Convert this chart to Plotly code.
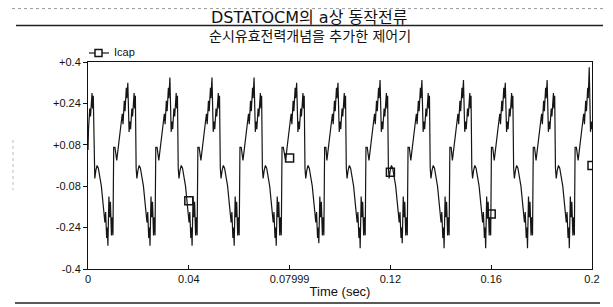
import plotly.graph_objects as go

# ---- data ----
# times (ms) of the main positive peak of each cycle
cycle_peak_ms = [-0.9, 15.8, 32.5, 49.2, 65.9, 82.8, 99.2, 115.9, 132.5, 149.0, 165.6, 182.2, 198.9]
# main peak value and minimum value of each cycle
cycle_peak_icap = [0.32, 0.32, 0.34, 0.34, 0.34, 0.32, 0.32, 0.33, 0.33, 0.33, 0.32, 0.33, 0.38]
cycle_min_icap = [-0.31, -0.31, -0.31, -0.31, -0.31, -0.30, -0.32, -0.30, -0.32, -0.32, -0.32, -0.32, -0.32]
# one measured cycle: time offset from the main peak (ms) and current value
cycle_offset_ms = [-4.4, -3.6, -2.8, -2.2, -1.9, -1.4, -1.1, -0.6, -0.4, 0.0, 0.5, 0.8, 1.1, 1.6, 1.9,
                   2.5, 2.7, 3.0, 3.3, 3.6, 4.0, 4.5, 5.0, 5.6, 6.2, 7.0, 7.6, 7.9, 8.3, 8.6, 8.8,
                   9.2, 9.5, 9.8, 10.2, 10.5, 10.8, 11.1, 11.6]
cycle_icap = [0.02, 0.08, 0.14, 0.20, 0.16, 0.25, 0.21, 0.30, 0.26, 0.33, 0.13, 0.17, 0.14, 0.22, 0.19,
              0.28, 0.22, 0.27, -0.01, -0.05, -0.02, 0.00, -0.01, -0.04, -0.08, -0.16, -0.22, -0.18, -0.28, -0.24, -0.32,
              -0.12, -0.20, -0.14, -0.27, -0.20, -0.27, 0.07, 0.07]
start_ms = [0.0]
start_icap = [0.06]

marker_time_s = [0.04, 0.08, 0.12, 0.16, 0.2]
marker_icap = [-0.136, 0.029, -0.026, -0.187, 0.0]

x_tickvals = [0, 0.04, 0.08, 0.12, 0.16, 0.2]
x_ticktext = ["0", "0.04", "0.07999", "0.12", "0.16", "0.2"]
y_tickvals = [-0.4, -0.24, -0.08, 0.08, 0.24, 0.4]
y_ticktext = ["-0.4", "-0.24", "-0.08", "+0.08", "+0.24", "+0.4"]

title_1 = "DSTATOCM의 a상 동작전류"
title_2 = "순시유효전력개념을 추가한 제어기"
x_title = "Time (sec)"
series_name = "Icap"

# ---- assemble the trace ----
peak_idx = cycle_offset_ms.index(0.0)
min_idx = cycle_offset_ms.index(8.8)
time_s = [m / 1000 for m in start_ms]
icap = list(start_icap)
for p, pk, mn in zip(cycle_peak_ms, cycle_peak_icap, cycle_min_icap):
    vals = list(cycle_icap)
    vals[peak_idx] = pk
    vals[min_idx] = mn
    for o, val in zip(cycle_offset_ms, vals):
        tt = p + o
        if 0 < tt <= 200:
            time_s.append(tt / 1000)
            icap.append(val)

FONT = "Liberation Sans, Arial, Noto Sans CJK KR, sans-serif"
TFONT = "DejaVu Sans, Noto Sans CJK KR, sans-serif"

fig = go.Figure()
fig.add_trace(go.Scatter(x=time_s, y=icap, mode="lines",
                         line=dict(color="#151515", width=1.2), showlegend=False, hoverinfo="skip"))
fig.add_trace(go.Scatter(x=marker_time_s, y=marker_icap, mode="markers",
                         marker=dict(symbol="square-open", size=8, color="#151515", line=dict(width=1.5)),
                         showlegend=False, cliponaxis=True))

# page coordinates of plot area: x 88..592 px, y 62..269 px (page has an 8px body margin)
def px(xp):
    return (xp - 88) / 504.0

def py(yp):
    return (269 - yp) / 207.0

shapes = [
    dict(type="line", xref="paper", yref="paper", x0=px(16), x1=px(603), y0=py(25.5), y1=py(25.5),
         line=dict(color="#222", width=1.5)),
    dict(type="line", xref="paper", yref="paper", x0=px(15), x1=px(600), y0=py(303), y1=py(303),
         line=dict(color="#222", width=1.5)),
    dict(type="line", xref="paper", yref="paper", x0=px(12), x1=px(608), y0=py(8.6), y1=py(8.6),
         line=dict(color="#999", width=1, dash="dot")),
    dict(type="line", xref="paper", yref="paper", x0=px(609), x1=px(609), y0=py(9), y1=py(305),
         line=dict(color="#999", width=1, dash="dot")),
    dict(type="line", xref="paper", yref="paper", x0=px(13), x1=px(13), y0=py(140), y1=py(190),
         line=dict(color="#bbb", width=1, dash="dot")),
    # legend symbol
    dict(type="line", xref="paper", yref="paper", x0=px(89), x1=px(109), y0=py(53), y1=py(53),
         line=dict(color="#151515", width=1.2)),
    dict(type="rect", xref="paper", yref="paper", x0=px(95), x1=px(102), y0=py(56.5), y1=py(49.5),
         line=dict(color="#151515", width=1.5), fillcolor="white"),
]

annotations = [
    dict(text=title_1, xref="paper", yref="paper", x=px(309), y=py(18), xanchor="center", yanchor="middle",
         showarrow=False, font=dict(family=TFONT, size=16, color="#111")),
    dict(text=title_2, xref="paper", yref="paper", x=px(310), y=py(36), xanchor="center", yanchor="middle",
         showarrow=False, font=dict(family=TFONT, size=14, color="#111")),
    dict(text=series_name, xref="paper", yref="paper", x=px(112), y=py(52), xanchor="left", yanchor="middle",
         showarrow=False, font=dict(family=FONT, size=11, color="#111")),
]

fig.update_layout(
    width=613, height=307,
    margin=dict(l=80, r=29, t=54, b=46),
    paper_bgcolor="white", plot_bgcolor="white",
    shapes=shapes, annotations=annotations,
    showlegend=False,
    font=dict(family=FONT, color="#111"),
)
fig.update_xaxes(range=[0, 0.2], tickvals=x_tickvals, ticktext=x_ticktext,
                 ticks="inside", ticklen=4, tickcolor="#111",
                 showline=True, mirror=True, linecolor="#111", linewidth=1,
                 showgrid=False, zeroline=False, tickfont=dict(size=11),
                 title=dict(text=x_title, font=dict(size=13), standoff=2))
fig.update_yaxes(range=[-0.4, 0.4], tickvals=y_tickvals, ticktext=y_ticktext,
                 ticks="outside", ticklen=4, tickcolor="#111",
                 showline=True, mirror=True, linecolor="#111", linewidth=1,
                 showgrid=False, zeroline=False, tickfont=dict(size=11))

fig.write_html("out.html")
